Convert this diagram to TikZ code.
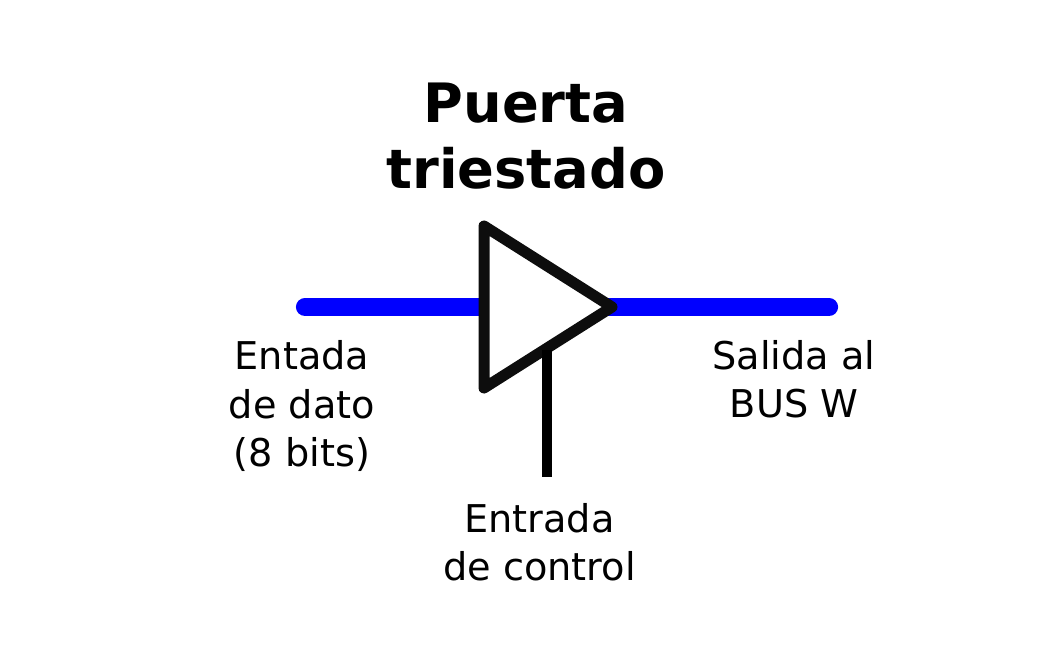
\documentclass[tikz,border=0pt]{standalone}
\usepackage{fontspec}
\setmainfont{DejaVu Sans}
\tikzset{
  lbl/.style={align=center,font=\fontsize{27.2pt}{34.2pt}\selectfont,text=black},
  titlelbl/.style={align=center,font=\fontsize{38.6pt}{47.5pt}\selectfont\bfseries,text=black},
  bus/.style={draw=blue,line width=0.455cm,line cap=round},
  gate/.style={draw=black!95,line width=0.275cm,line join=round,fill=white},
  ctrl/.style={draw=black,line width=0.23cm}
}
\begin{document}
\begin{tikzpicture}[x=0.025cm,y=-0.025cm]
\useasboundingbox (0,0) rectangle (1064,653);
\coordinate (in) at (305,307);
\coordinate (out) at (829,307);
\coordinate (a) at (484,226);
\coordinate (b) at (484,388);
\coordinate (c) at (612,307);
\coordinate (d) at (547,350);
\coordinate (e) at (547,476.5);
\draw[bus] (in) -- (out);
\draw[gate] (a) -- (c) -- (b) -- cycle;
\draw[ctrl] (d) -- (e);
\node[titlelbl] (title) at (526,136) {Puerta\\triestado};
\node[lbl] (dato) at (302,406) {Entada\\de dato\\(8 bits)};
\node[lbl] (salida) at (794,379.5) {Salida al\\BUS W};
\node[lbl] (control) at (539.5,542) {Entrada\\de control};
\end{tikzpicture}
\end{document}
